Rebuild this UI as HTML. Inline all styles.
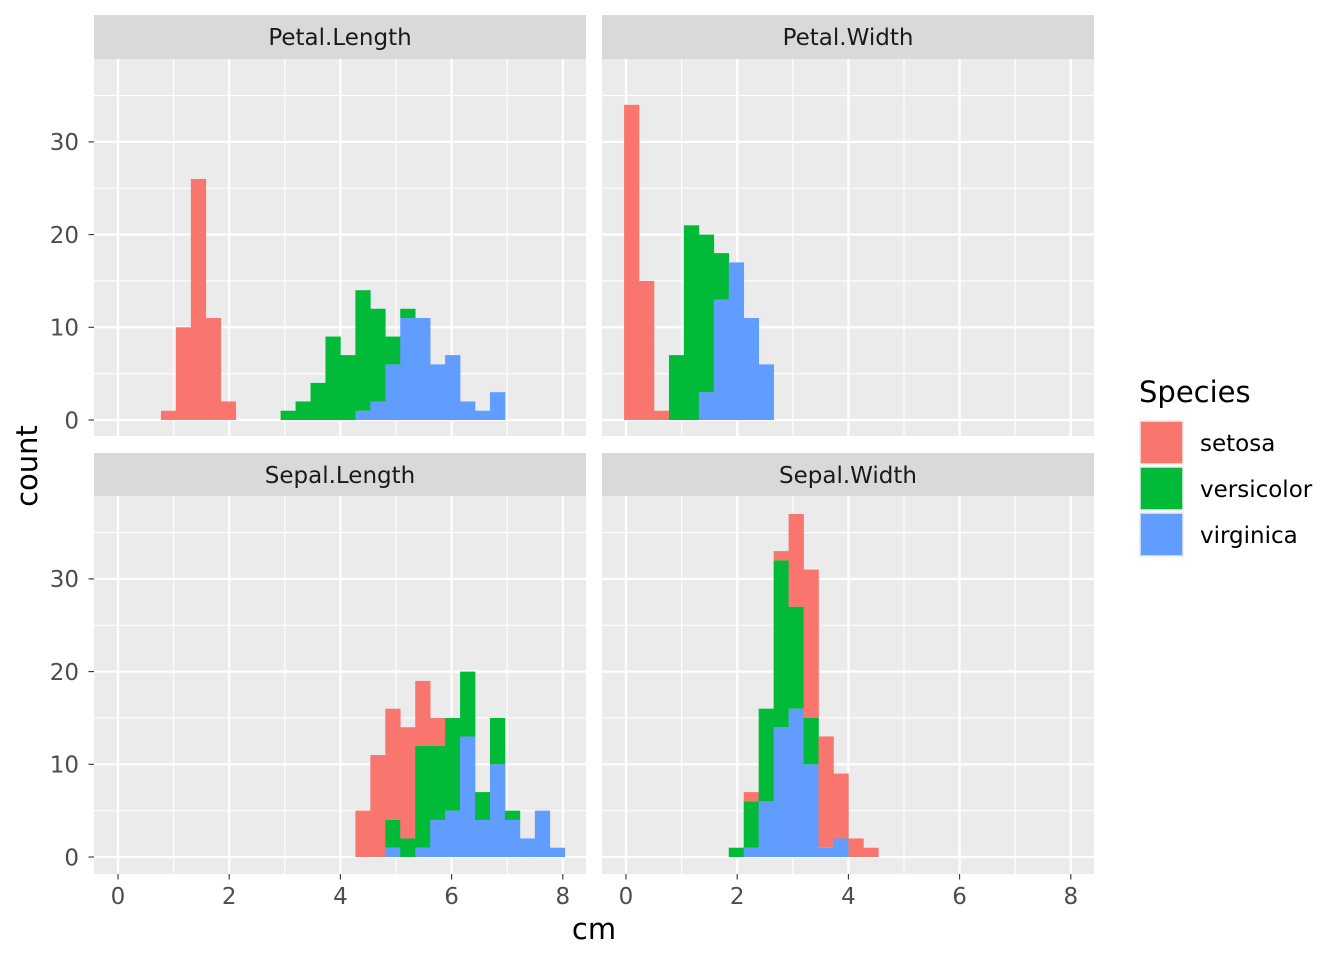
<!DOCTYPE html>
<html><head><meta charset="utf-8"><style>
html,body{margin:0;padding:0;background:#fff;}
svg{display:block;font-family:"DejaVu Sans","Liberation Sans",sans-serif;}
</style></head><body>
<svg id="s" width="1344" height="960" viewBox="0 0 1344 960" xmlns="http://www.w3.org/2000/svg"></svg>
<script>
const R='#F8766D',G='#00BA38',B='#619CFF';
const data={
 'Petal.Length':{s:{3:1,4:10,5:26,6:11,7:2},v:{11:1,12:2,13:4,14:9,15:7,16:13,17:10,18:3,19:1},g:{16:1,17:2,18:6,19:11,20:11,21:6,22:7,23:2,24:1,25:3}},
 'Petal.Width':{s:{0:34,1:15,2:1},v:{3:7,4:21,5:17,6:5},g:{5:3,6:13,7:17,8:11,9:6}},
 'Sepal.Length':{s:{16:5,17:11,18:12,19:12,20:7,21:3},v:{18:3,19:2,20:11,21:8,22:10,23:7,24:3,25:5,26:1},g:{18:1,20:1,21:4,22:5,23:13,24:4,25:10,26:4,27:2,28:5,29:1}},
 'Sepal.Width':{s:{8:1,10:1,11:10,12:16,13:12,14:7,15:2,16:1},v:{7:1,8:5,9:10,10:18,11:11,12:5},g:{8:1,9:6,10:14,11:16,12:10,13:1,14:2}}
};
const panels=[
 ['Petal.Length',94,15,59,436,420],
 ['Petal.Width',602,15,59,436,420],
 ['Sepal.Length',94,453,496,874,857],
 ['Sepal.Width',602,453,496,874,857]];
const PX=55.6, PY=9.27, W=492;
const FS=23, FL=29;
let h='';
for(const [name,x0,sy,py0,py1,zy] of panels){
 const ox=x0+24;
 h+=`<rect x="${x0}" y="${sy}" width="${W}" height="${py0-sy}" fill="#D9D9D9"/>`;
 h+=`<text x="${x0+W/2}" y="${sy+30}" font-size="${FS}" fill="#1A1A1A" text-anchor="middle">${name}</text>`;
 h+=`<rect x="${x0}" y="${py0}" width="${W}" height="${py1-py0}" fill="#EBEBEB"/>`;
 for(let v=5;v<=35;v+=10){const y=zy-v*PY;h+=`<line x1="${x0}" x2="${x0+W}" y1="${y}" y2="${y}" stroke="#fff" stroke-width="1.1"/>`;}
 for(let v=1;v<=7;v+=2){const x=ox+v*PX;h+=`<line x1="${x}" x2="${x}" y1="${py0}" y2="${py1}" stroke="#fff" stroke-width="1.1"/>`;}
 for(let v=0;v<=30;v+=10){const y=zy-v*PY;h+=`<line x1="${x0}" x2="${x0+W}" y1="${y}" y2="${y}" stroke="#fff" stroke-width="2.2"/>`;}
 for(let v=0;v<=8;v+=2){const x=ox+v*PX;h+=`<line x1="${x}" x2="${x}" y1="${py0}" y2="${py1}" stroke="#fff" stroke-width="2.2"/>`;}
 const d=data[name];
 for(let k=0;k<30;k++){
  let base=0;
  for(const [key,c] of [['g',B],['v',G],['s',R]]){
   const n=d[key][k]||0; if(!n) continue;
   const xl=ox+(-0.0345+k*0.269)*PX;
   const yt=zy-(base+n)*PY;
   h+=`<rect x="${xl.toFixed(2)}" y="${yt.toFixed(2)}" width="${(0.269*PX+0.3).toFixed(2)}" height="${(n*PY).toFixed(2)}" fill="${c}"/>`;
   base+=n;
  }
 }
 if(x0===94){
  for(let v=0;v<=30;v+=10){const y=zy-v*PY;
   h+=`<line x1="88.5" x2="94" y1="${y}" y2="${y}" stroke="#333" stroke-width="1.1"/>`;
   h+=`<text x="79" y="${y+8.3}" font-size="${FS}" fill="#4D4D4D" text-anchor="end">${v}</text>`;}
 }
 if(py0===496){
  for(let v=0;v<=8;v+=2){const x=ox+v*PX;
   h+=`<line x1="${x}" x2="${x}" y1="874" y2="879.5" stroke="#333" stroke-width="1.1"/>`;
   h+=`<text x="${x}" y="904" font-size="${FS}" fill="#4D4D4D" text-anchor="middle">${v}</text>`;}
 }
}
h+=`<text x="594" y="939" font-size="${FL}" fill="#000" text-anchor="middle">cm</text>`;
h+=`<text transform="translate(37,466) rotate(-90)" font-size="${FL}" fill="#000" text-anchor="middle">count</text>`;
h+=`<text x="1139" y="402" font-size="${FL}" fill="#000">Species</text>`;
[[R,'setosa',421],[G,'versicolor',467],[B,'virginica',513]].forEach(([c,t,y])=>{
 h+=`<rect x="1140" y="${y}" width="43" height="43" fill="${c}" stroke="#EBEBEB" stroke-width="1.5"/>`;
 h+=`<text x="1200" y="${y+30}" font-size="${FS}" fill="#000">${t}</text>`;
});
document.getElementById('s').innerHTML=h;
</script>
</body></html>
